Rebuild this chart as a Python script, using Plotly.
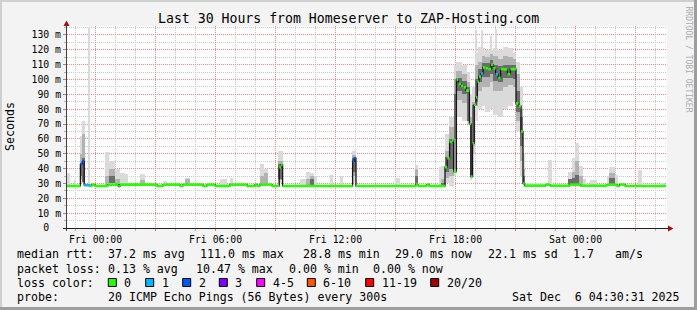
import plotly.graph_objects as go

# ---------------- data (time in hours after Fri 00:00, values in ms) ----------------
END_T = 28.51          # graph end: Sat 04:30:31
X_RANGE = [-1.43, 28.57]
Y_RANGE = [0, 136]

# median rtt, held from med_t[i] until med_t[i+1]
med_t = [-1.43, -0.76, -0.66, -0.57, -0.285, -0.185, -0.035, 0.62,
         1.14, 1.22, 3.07, 3.37, 4.22, 4.37, 5.37, 5.57,
         5.97, 6.72, 7.57, 7.97, 8.07, 8.22, 8.82, 9.18,
         9.27, 9.35, 12.85, 12.93, 13.02, 16.02, 16.12, 16.57,
         16.67, 17.47, 17.58, 17.70, 17.82, 17.90, 18.04, 18.14,
         18.27, 18.39, 18.52, 18.69, 18.77, 18.85, 18.93, 19.02,
         19.09, 19.17, 19.27, 19.37, 19.50, 19.63, 19.77, 19.88,
         20.00, 20.13, 20.25, 20.42, 20.59, 20.74, 21.02, 21.15,
         21.27, 21.37, 21.45, 22.52, 22.72, 23.72, 24.22, 25.57,
         26.07, 26.20, 26.47]
med_ms = [28.3, 43.0, 44.8, 28.8, 28.3, 29.2, 28.3, 29.2,
          28.0, 29.2, 28.3, 29.2, 28.3, 29.2, 28.3, 29.2,
          28.3, 29.2, 28.3, 29.2, 28.3, 29.2, 28.3, 41.0,
          42.4, 28.3, 45.0, 47.0, 28.3, 29.2, 28.3, 29.2,
          28.3, 41.0, 47.0, 58.0, 59.0, 38.0, 100.0, 97.0,
          95.6, 94.7, 92.5, 70.0, 34.6, 57.0, 83.0, 88.0,
          98.5, 102.0, 104.0, 108.0, 107.5, 107.0, 110.0, 107.5,
          103.5, 101.0, 107.0, 106.8, 103.5, 107.0, 84.0, 82.0,
          65.0, 30.0, 28.5, 29.2, 28.5, 29.2, 28.5, 29.2,
          28.3, 29.2, 28.3]
med_loss = [0, 2, 2, 1, 0, 0, 0, 0,
            0, 0, 0, 0, 0, 0, 0, 0,
            0, 0, 0, 0, 0, 0, 0, 0,
            0, 0, 2, 2, 0, 0, 0, 0,
            0, 0, 0, 0, 0, 0, 0, 0,
            0, 0, 0, 0, 0, 0, 0, 0,
            0, 0, 1, 0, 0, 0, 0, 0,
            1, 0, 0, 0, 0, 0, 0, 0,
            0, 0, 0, 0, 0, 0, 0, 0,
            0, 0, 0]

# smoke: light (outer pings)
light_t0 = [-1.39, -1.09, -0.79, -0.68, -0.385, 0.45, 0.67, 0.95,
            1.20, 1.47, 2.22, 3.37, 4.47, 6.22, 6.72, 8.22,
            8.42, 9.12, 10.20, 10.50, 10.72, 10.92, 11.72, 12.22,
            12.80, 14.97, 15.97, 17.15, 17.25, 17.47, 17.65, 17.90,
            18.04, 18.30, 18.55, 18.70, 18.80, 18.95, 19.10, 19.30,
            19.45, 19.70, 19.85, 20.10, 20.35, 20.60, 20.85, 21.00,
            21.20, 21.35, 21.45, 22.62, 23.62, 23.82, 23.97, 24.17,
            24.37, 24.72, 25.57, 25.67, 25.97, 27.12, 28.20,
            19.00, 19.30, 19.74, 19.98]
light_t1 = [-1.29, -0.99, -0.68, -0.55, -0.285, 0.67, 0.95, 1.20,
            1.45, 1.62, 2.47, 3.57, 4.72, 6.57, 6.87, 8.42,
            8.62, 9.37, 10.50, 10.72, 10.92, 11.07, 11.87, 12.37,
            13.02, 15.22, 16.12, 17.25, 17.47, 17.65, 17.90, 18.04,
            18.30, 18.55, 18.70, 18.80, 18.95, 19.10, 19.30, 19.45,
            19.70, 19.85, 20.10, 20.35, 20.60, 20.85, 21.00, 21.20,
            21.35, 21.45, 22.57, 22.82, 23.82, 23.97, 24.17, 24.37,
            24.52, 25.07, 25.67, 25.97, 26.12, 27.32, 28.45,
            19.06, 19.38, 19.80, 20.06]
light_lo = [28, 28, 30, 30, 29, 29, 29, 29,
            29, 29, 29, 29, 29, 29, 29, 29,
            29, 30, 29, 29, 29, 29, 29, 29,
            30, 29, 29, 29, 28, 30, 28, 35,
            75, 72, 70, 32, 50, 72, 80, 82,
            78, 80, 76, 75, 80, 82, 85, 65,
            35, 29, 28.5, 29, 29, 29, 29, 29,
            29, 29, 29, 29, 29, 29, 29,
            80, 82, 80, 76]
light_hi = [37, 32.5, 62, 72, 134.5, 51.4, 45, 40,
            37, 36.4, 36.4, 31.5, 33.5, 32.9, 34, 43,
            40, 52, 33, 38, 37, 35, 36, 35,
            52, 33.5, 42.4, 41, 42, 63, 75, 110,
            112, 110, 105, 90, 95, 118, 122, 121,
            120, 120, 121, 120, 122, 121, 118, 112,
            95, 50, 30.6, 45.8, 38, 47, 57, 42,
            33, 32, 35, 41, 36, 39, 30.5,
            133, 133, 129, 134]

# smoke: mid
mid_t0 = [-0.79, -0.68, 0.45, 0.67, 0.95, 2.22, 4.47, 8.22,
          8.42, 9.12, 10.50, 10.72, 12.80, 15.97, 17.25, 17.47,
          17.65, 17.90, 18.04, 18.30, 18.55, 18.70, 18.80, 18.95,
          19.10, 19.30, 19.45, 19.70, 19.85, 20.10, 20.35, 20.60,
          20.85, 21.00, 21.20, 21.35, 23.82, 23.97, 24.17, 25.67]
mid_t1 = [-0.68, -0.55, 0.67, 0.95, 1.20, 2.47, 4.72, 8.42,
          8.62, 9.37, 10.72, 10.92, 13.02, 16.12, 17.47, 17.65,
          17.90, 18.04, 18.30, 18.55, 18.70, 18.80, 18.95, 19.10,
          19.30, 19.45, 19.70, 19.85, 20.10, 20.35, 20.60, 20.85,
          21.00, 21.20, 21.35, 21.45, 23.97, 24.17, 24.37, 25.97]
mid_lo = [33, 32, 29, 30, 29, 29, 29, 29,
          29, 32, 29, 29, 35, 29, 28, 34,
          35, 40, 86, 84, 80, 35, 55, 82,
          92, 95, 95, 98, 92, 92, 95, 96,
          95, 72, 45, 29, 29, 30, 29, 29]
mid_hi = [50, 63, 35, 40, 33, 32, 33.2, 35,
          37, 45, 33, 35, 49, 40, 33, 52,
          68, 100, 106, 104, 98, 75, 85, 110,
          112, 116, 115, 117, 116, 114, 116, 115,
          114, 104, 80, 40, 38, 45, 35, 37]

# smoke: dark (pings closest to the median)
dark_t0 = [-0.79, -0.68, 0.67, 9.12, 10.72, 12.80, 15.97, 17.25,
           17.47, 17.65, 17.90, 18.04, 18.30, 18.55, 18.70, 18.80,
           18.95, 19.10, 19.30, 19.45, 19.70, 19.85, 20.10, 20.35,
           20.60, 20.85, 21.00, 21.20, 21.35, 23.62, 23.82, 23.97,
           25.67]
dark_t1 = [-0.68, -0.55, 0.95, 9.37, 10.92, 13.02, 16.12, 17.47,
           17.65, 17.90, 18.04, 18.30, 18.55, 18.70, 18.80, 18.95,
           19.10, 19.30, 19.45, 19.70, 19.85, 20.10, 20.35, 20.60,
           20.85, 21.00, 21.20, 21.35, 21.45, 23.82, 23.97, 24.17,
           25.97]
dark_lo = [35, 31, 30, 33, 29, 38, 29, 28,
           38, 40, 60, 92, 90, 72, 36, 57,
           85, 98, 102, 102, 104, 99, 98, 101,
           101, 100, 78, 55, 29, 29, 29, 29,
           29]
dark_hi = [44, 47, 35, 43, 33, 47, 35, 30,
           48, 60, 90, 101, 99, 95, 70, 83,
           100, 107, 111, 111, 113, 110, 109, 110,
           110, 110, 92, 75, 35, 33, 34, 36,
           34]

x_tickvals = [0, 3, 6, 9, 12, 15, 18, 21, 24, 27]
x_ticktext = ['Fri 00:00', '', 'Fri 06:00', '', 'Fri 12:00', '', 'Fri 18:00', '', 'Sat 00:00', '']
y_tickvals = [0, 10, 20, 30, 40, 50, 60, 70, 80, 90, 100, 110, 120, 130]
y_ticktext = ['0\u00a0\u00a0', '10 m', '20 m', '30 m', '40 m', '50 m', '60 m', '70 m', '80 m',
              '90 m', '100 m', '110 m', '120 m', '130 m']

title_text = 'Last 30 Hours from Homeserver to ZAP-Hosting.com'
row1_text = ['median rtt:', '37.2 ms avg', '111.0 ms max', '28.8 ms min',
             '29.0 ms now', '22.1 ms sd', '1.7', 'am/s']
row2_text = ['packet loss:', '0.13 % avg', '10.47 % max', '0.00 % min', '0.00 % now']
loss_names = ['0', '1', '2', '3', '4-5', '6-10', '11-19', '20/20']
loss_colors = ['#26ff00', '#00b8ff', '#0059ff', '#7e00ff', '#ff00ff', '#ff5500', '#ff0000', '#a10000']
probe_text = '20 ICMP Echo Pings (56 Bytes) every 300s'
date_text = 'Sat Dec  6 04:30:31 2025'

# ---------------- figure ----------------
W, H = 697, 310
ML, MR, MT, MB = 67, 30, 26, 82
PW, PH = W - ML - MR, H - MT - MB
BOTTOM = H - MB
MONO = 'DejaVu Sans Mono'


def xp(X):
    return (X - ML) / PW


def yp(Y):
    return (BOTTOM - Y) / PH


fig = go.Figure()


def smoke(t0, t1, lo, hi, color):
    fig.add_trace(go.Bar(
        x=[(a + b) / 2 for a, b in zip(t0, t1)],
        width=[b - a for a, b in zip(t0, t1)],
        base=lo,
        y=[h - l for l, h in zip(lo, hi)],
        marker=dict(color=color, line=dict(width=0)),
        hoverinfo='skip', showlegend=False))


smoke(light_t0, light_t1, light_lo, light_hi, '#dadada')
smoke(mid_t0, mid_t1, mid_lo, mid_hi, '#b2b2b2')
smoke(dark_t0, dark_t1, dark_lo, dark_hi, '#6c6c6c')

# black step line for the median
fig.add_trace(go.Scatter(
    x=med_t + [END_T], y=med_ms + [med_ms[-1]], mode='lines',
    line=dict(shape='hv', color='#151515', width=1.3),
    hoverinfo='skip', showlegend=False))

# coloured median segments by loss
segs = {}
for i, (t, v, l) in enumerate(zip(med_t, med_ms, med_loss)):
    tn = med_t[i + 1] if i + 1 < len(med_t) else END_T
    sx, sy = segs.setdefault(l, ([], []))
    sx.extend([t, tn, None])
    sy.extend([v, v, None])
for l, (sx, sy) in segs.items():
    fig.add_trace(go.Scatter(
        x=sx, y=sy, mode='lines',
        line=dict(color=loss_colors[l], width=2.6),
        hoverinfo='skip', showlegend=False))

shapes = []
# figure border (shade)
shapes.append(dict(type='rect', xref='paper', yref='paper', x0=xp(0), x1=xp(W), y0=yp(0), y1=yp(2),
                   fillcolor='#cfcfcf', line=dict(width=0), layer='below'))
shapes.append(dict(type='rect', xref='paper', yref='paper', x0=xp(0), x1=xp(2), y0=yp(0), y1=yp(H),
                   fillcolor='#cfcfcf', line=dict(width=0), layer='below'))
shapes.append(dict(type='rect', xref='paper', yref='paper', x0=xp(0), x1=xp(W), y0=yp(H - 3), y1=yp(H),
                   fillcolor='#9e9e9e', line=dict(width=0)))
shapes.append(dict(type='rect', xref='paper', yref='paper', x0=xp(W - 3), x1=xp(W), y0=yp(0), y1=yp(H),
                   fillcolor='#9e9e9e', line=dict(width=0)))
# axes
shapes.append(dict(type='line', xref='paper', yref='paper', x0=xp(66.5), x1=xp(66.5), y0=yp(231), y1=yp(23),
                   line=dict(color='#404040', width=1)))
shapes.append(dict(type='line', xref='paper', yref='paper', x0=xp(63), x1=xp(669), y0=yp(228.5), y1=yp(228.5),
                   line=dict(color='#202020', width=1)))
# arrows
shapes.append(dict(type='path', xref='paper', yref='paper',
                   path=f'M {xp(63.5)},{yp(26)} L {xp(69.5)},{yp(26)} L {xp(66.5)},{yp(20.5)} Z',
                   fillcolor='#a01010', line=dict(width=0)))
shapes.append(dict(type='path', xref='paper', yref='paper',
                   path=f'M {xp(668)},{yp(225.5)} L {xp(668)},{yp(231.5)} L {xp(673.5)},{yp(228.5)} Z',
                   fillcolor='#a01010', line=dict(width=0)))

annots = []


def txt(X, Y, s, size=11.6, anchor='left', color='#000000', angle=0):
    annots.append(dict(x=xp(X), y=yp(Y), xref='paper', yref='paper', text=s, showarrow=False,
                       xanchor=anchor, yanchor='middle', borderpad=0, textangle=angle,
                       font=dict(family=MONO, size=size, color=color)))


txt(348, 19, title_text, size=13.2, anchor='center')
txt(10, 127, 'Seconds', size=11.6, anchor='center', angle=-90)
txt(688.5, 59, 'RRDTOOL / TOBI OETIKER', size=8, anchor='center', color='#ababab', angle=90)

row1_x = [16, 107, 199, 302, 393.5, 486.5, 572, 614]
for X, s in zip(row1_x, row1_text):
    txt(X, 254.5, s)
row2_x = [16, 107, 195, 288, 372]
for X, s in zip(row2_x, row2_text):
    txt(X, 268.5, s)
txt(16, 282.5, 'loss color:')
box_x = [108.3, 145.7, 182.7, 219.3, 256.7, 307.3, 365.7, 430.7]
for X, name, col in zip(box_x, loss_names, loss_colors):
    shapes.append(dict(type='rect', xref='paper', yref='paper', x0=xp(X), x1=xp(X + 8),
                       y0=yp(286.5), y1=yp(278.5), fillcolor=col, line=dict(color='#000000', width=1)))
    txt(X + 15, 282.5, name)
txt(16, 296.5, 'probe:')
txt(107, 296.5, probe_text)
txt(680.5, 296.5, date_text, anchor='right')

fig.update_layout(
    width=W, height=H, autosize=False,
    margin=dict(l=ML, r=MR, t=MT, b=MB, pad=0),
    paper_bgcolor='#f3f3f3', plot_bgcolor='#ffffff',
    barmode='overlay', bargap=0, showlegend=False, hovermode=False,
    shapes=shapes, annotations=annots,
    xaxis=dict(range=X_RANGE, tickmode='array', tickvals=x_tickvals, ticktext=x_ticktext,
               showgrid=True, gridcolor='#f08a8a', gridwidth=1, griddash='1px,1px',
               zeroline=False, showline=False,
               ticks='outside', ticklen=2, tickcolor='#e07070',
               tickfont=dict(family=MONO, size=9.8, color='#000000'),
               minor=dict(dtick=1, tick0=0, showgrid=True, gridcolor='#c8c8c8', griddash='1px,1px',
                          ticks='outside', ticklen=2, tickcolor='#b0b0b0')),
    yaxis=dict(range=Y_RANGE, tickmode='array', tickvals=y_tickvals, ticktext=y_ticktext,
               showgrid=True, gridcolor='#f08a8a', gridwidth=1, griddash='1px,1px',
               zeroline=False, showline=False,
               ticks='outside', ticklen=3, tickcolor='#e07070',
               tickfont=dict(family=MONO, size=9.8, color='#000000'),
               minor=dict(dtick=5, tick0=0, showgrid=True, gridcolor='#c8c8c8', griddash='1px,1px',
                          ticks='outside', ticklen=2, tickcolor='#b0b0b0')),
)

fig.write_html('out.html')
